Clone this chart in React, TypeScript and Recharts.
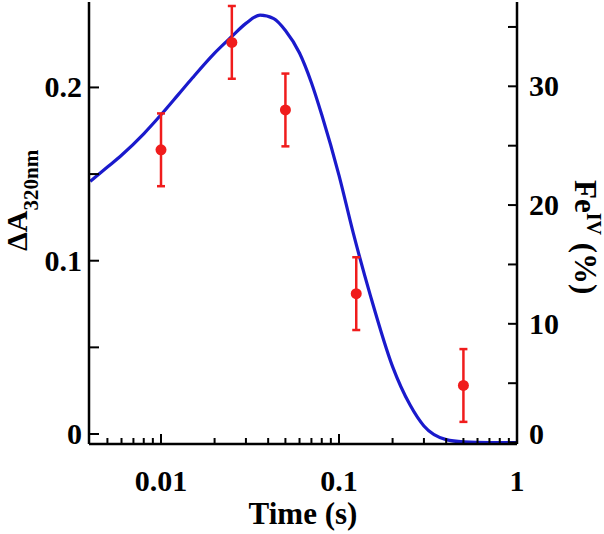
import { ComposedChart, Line, Scatter, ErrorBar, XAxis, YAxis } from "recharts";

const FONT = '"Liberation Serif", "Times New Roman", serif';
const RED = "#f01c1c";
const BLUE = "#1a1acc";

// fitted Fe(IV) fraction, % (right axis)
const fitTimes = [
  0.004, 0.005, 0.006, 0.008, 0.01, 0.0125, 0.015, 0.02, 0.025, 0.03, 0.036, 0.043, 0.05,
  0.06, 0.07, 0.08, 0.1, 0.12, 0.15, 0.2, 0.25, 0.3, 0.4, 0.5, 0.7, 1,
];
const fitFe = [
  22.0, 23.2, 24.2, 26.0, 27.6, 29.3, 30.7, 32.8, 34.2, 35.3, 36.0, 35.7, 34.7,
  32.8, 30.3, 27.6, 22.5, 17.7, 12.4, 6.4, 3.2, 1.4, 0.25, 0.06, 0, 0,
];

// measured dA at 320 nm (left axis)
const pointTimes = [0.01, 0.025, 0.05, 0.125, 0.5];
const pointDA = [0.164, 0.226, 0.187, 0.081, 0.028];
const pointErr = [0.021, 0.021, 0.021, 0.021, 0.021];

const xTicks = [
  0.005, 0.006, 0.007, 0.008, 0.009, 0.01, 0.02, 0.03, 0.04, 0.05, 0.06, 0.07, 0.08, 0.09,
  0.1, 0.2, 0.3, 0.4, 0.5, 0.6, 0.7, 0.8, 0.9, 1,
];
const xLabels = [0.01, 0.1, 1];
const leftTicks = [0, 0.05, 0.1, 0.15, 0.2];
const leftLabels = [0, 0.1, 0.2];
const rightTicks = [0, 5, 10, 15, 20, 25, 30, 35];
const rightLabels = [0, 10, 20, 30];

const fit = fitTimes.map((t, i) => ({ t, fe: fitFe[i] }));
const points = pointTimes.map((t, i) => ({ t, dA: pointDA[i], err: pointErr[i] }));

const labelStyle = { fontFamily: FONT, fontWeight: 700, fontSize: 30, fill: "#000" };

function BottomTick({ x, y, payload }: any) {
  const v = payload.value;
  const major = xLabels.includes(v);
  return (
    <g>
      <line x1={x} x2={x} y1={y} y2={y - (major ? 10 : 6)} stroke="#000" strokeWidth={2} />
      {major && (
        <text x={x} y={y + 47} textAnchor="middle" {...labelStyle}>
          {String(v)}
        </text>
      )}
    </g>
  );
}

function LeftTick({ x, y, payload }: any) {
  const v = payload.value;
  const major = leftLabels.includes(v);
  return (
    <g>
      <line x1={x} x2={x + 10} y1={y} y2={y} stroke="#000" strokeWidth={2} />
      {major && (
        <text x={x - 7} y={y + 10} textAnchor="end" {...labelStyle}>
          {String(v)}
        </text>
      )}
    </g>
  );
}

function RightTick({ x, y, payload }: any) {
  const v = payload.value;
  const major = rightLabels.includes(v);
  return (
    <g>
      <line x1={x} x2={x - 9} y1={y} y2={y} stroke="#000" strokeWidth={2} />
      {major && (
        <text x={x + 12} y={y + 10 - (v === 0 ? 9 : 0)} textAnchor="start" {...labelStyle}>
          {String(v)}
        </text>
      )}
    </g>
  );
}

function Dot({ cx, cy }: any) {
  return <circle cx={cx} cy={cy} r={5.5} fill={RED} />;
}

export default function App() {
  return (
    <div style={{ position: "absolute", left: 0, top: 0, width: 604, height: 534, background: "#fff" }}>
      <ComposedChart width={604} height={534} margin={{ top: 2, right: 0, bottom: 0, left: 0 }}>
        <XAxis
          dataKey="t"
          type="number"
          scale="log"
          domain={[0.00394, 1]}
          allowDataOverflow
          ticks={xTicks}
          interval={0}
          height={90}
          tickSize={0}
          tickMargin={0}
          tick={<BottomTick />}
          axisLine={{ stroke: "#000", strokeWidth: 2.5 }}
        />
        <XAxis
          xAxisId="top"
          orientation="top"
          type="number"
          scale="log"
          domain={[0.00394, 1]}
          allowDataOverflow
          height={0}
          tick={false}
          tickLine={false}
          axisLine={{ stroke: "#000", strokeWidth: 2.5 }}
        />
        <YAxis
          yAxisId="left"
          type="number"
          domain={[-0.00577, 0.2493]}
          allowDataOverflow
          ticks={leftTicks}
          interval={0}
          width={89}
          tickSize={0}
          tickMargin={0}
          tick={<LeftTick />}
          axisLine={{ stroke: "#000", strokeWidth: 2.5 }}
        />
        <YAxis
          yAxisId="right"
          orientation="right"
          type="number"
          domain={[-0.12, 37.1]}
          allowDataOverflow
          ticks={rightTicks}
          interval={0}
          width={87}
          tickSize={0}
          tickMargin={0}
          tick={<RightTick />}
          axisLine={{ stroke: "#000", strokeWidth: 2.5 }}
        />
        <Line
          data={fit}
          dataKey="fe"
          yAxisId="right"
          type="monotone"
          stroke={BLUE}
          strokeWidth={3.2}
          dot={false}
          activeDot={false}
          isAnimationActive={false}
        />
        <Scatter
          data={points}
          dataKey="dA"
          yAxisId="left"
          fill={RED}
          shape={<Dot />}
          isAnimationActive={false}
        >
          <ErrorBar dataKey="err" direction="y" width={4} stroke={RED} strokeWidth={2.5} />
        </Scatter>
      </ComposedChart>
      <svg
        width={604}
        height={534}
        style={{ position: "absolute", left: 0, top: 0, pointerEvents: "none" }}
      >
        <text x={303} y={524} textAnchor="middle" {...labelStyle} fontSize={31}>
          Time (s)
        </text>
        <text transform="translate(27,251) rotate(-90)" {...labelStyle} fontSize={30}>
          ΔA
          <tspan dy={11} fontSize={21}>
            320nm
          </tspan>
        </text>
        <text transform="translate(575,180) rotate(90)" {...labelStyle} fontSize={31}>
          Fe
          <tspan dy={-12} fontSize={20}>
            IV
          </tspan>
          <tspan dy={12}> (%)</tspan>
        </text>
      </svg>
    </div>
  );
}
